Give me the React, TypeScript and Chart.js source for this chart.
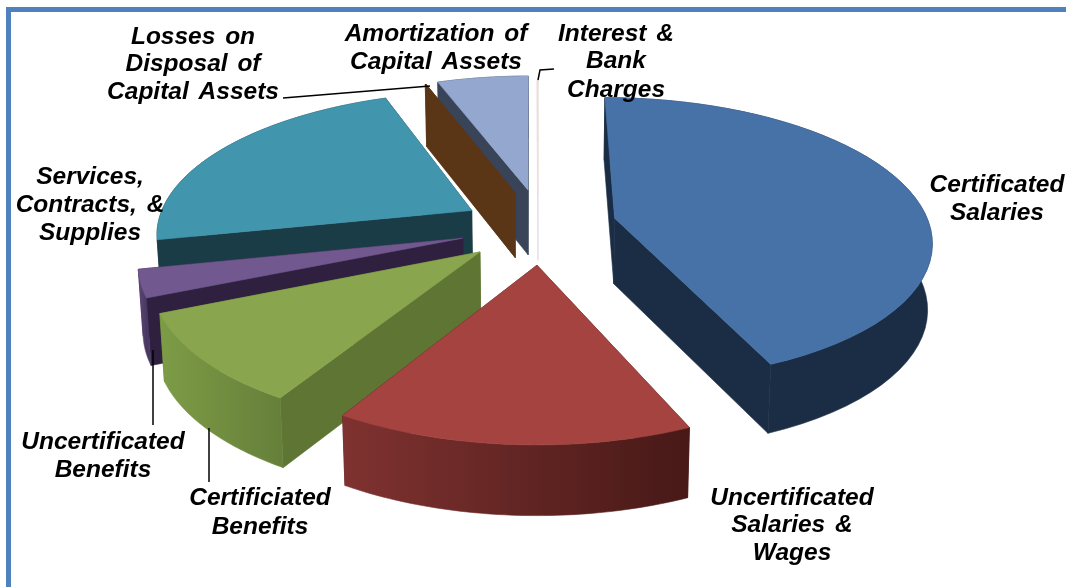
import React, { useEffect, useRef } from "react";
import { Chart, registerables } from "chart.js";

Chart.register(...registerables);

const categories = [
  "Certificated Salaries",
  "Uncertificated Salaries & Wages",
  "Certificiated Benefits",
  "Uncertificated Benefits",
  "Services, Contracts, & Supplies",
  "Losses on Disposal of Capital Assets",
  "Amortization of Capital Assets",
  "Interest & Bank Charges",
];
const values = [43.45, 15.15, 10, 3.05, 22.75, 0.05, 5.5, 0.05];
const explodeX = [78, -1, -57, -75, -68, -24, -10.5, 0];
const explodeY = [-38, 65, 37, 7, -56, -98, -105, -92];

const topColors = ["#4672a8", "#a54340", "#89a54e", "#71588f", "#4196ad", "#5c3616", "#93a7cf", "#f3dcdc"];
const cutColors = ["#1b2d45", "#4a1a18", "#5f7533", "#2f2040", "#193c46", "#5a3617", "#3a4458", "#e6e0e0"];
const wallLeft = ["#1b2d45", "#7f3230", "#7d9c46", "#5d4776", "#193c46", "#5a3617", "#3a4458", "#e6e0e0"];
const wallRight = ["#1b2d45", "#471917", "#66803a", "#4a3862", "#193c46", "#5a3617", "#3a4458", "#e6e0e0"];

const labelLines = [
  ["Certificated", "Salaries"],
  ["Uncertificated", "Salaries &", "Wages"],
  ["Certificiated", "Benefits"],
  ["Uncertificated", "Benefits"],
  ["Services,", "Contracts, &", "Supplies"],
  ["Losses on", "Disposal of", "Capital Assets"],
  ["Amortization of", "Capital Assets"],
  ["Interest &", "Bank", "Charges"],
];
const labelX = [997, 792, 260, 103, 90, 193, 436, 616];
const labelY = [
  [192, 220],
  [505, 532, 560],
  [505, 534],
  [449, 477],
  [184, 212, 240],
  [44, 71, 99],
  [41, 69],
  [41, 68, 97],
];
const leaders = [
  [[283, 98], [430, 86]],
  [[538, 80], [540, 70], [554, 69]],
  [[153, 350], [153, 425]],
  [[209, 428], [209, 482]],
];

const TILT = 0.45;
const PERSPECTIVE = 0.000467;
const DEPTH = 66;
const STEPS = 48;

const pie3d = {
  id: "pie3d",
  beforeDraw(chart: any) {
    const ctx = chart.ctx;
    ctx.save();
    ctx.fillStyle = "#ffffff";
    ctx.fillRect(0, 0, chart.width, chart.height);
    ctx.strokeStyle = "#4f81bd";
    ctx.lineWidth = 5;
    ctx.strokeRect(8.5, 9.5, chart.width + 40, chart.height + 40);
    ctx.restore();
  },
  beforeDatasetsDraw(chart: any) {
    const ctx = chart.ctx;
    const arcs = chart.getDatasetMeta(0).data;
    const project = (cx: number, cy: number, X: number, Y: number, z: number) => {
      const w = 1 - PERSPECTIVE * Y;
      const conv = 1 - 0.012 * (z / DEPTH);
      return [cx + (X / w) * conv, cy + (TILT * Y) / w + z / Math.pow(w, 0.35)];
    };
    const slices = arcs.map((arc: any, i: number) => ({ arc, i, ox: explodeX[i], oy: explodeY[i] }));
    slices.sort((a: any, b: any) => a.oy - b.oy);
    const fillPoly = (pts: number[][], style: any) => {
      ctx.beginPath();
      pts.forEach((p, n) => (n ? ctx.lineTo(p[0], p[1]) : ctx.moveTo(p[0], p[1])));
      ctx.closePath();
      ctx.fillStyle = style;
      ctx.strokeStyle = style;
      ctx.lineWidth = 0.6;
      ctx.fill();
      ctx.stroke();
    };
    ctx.save();
    for (const { arc, i, ox, oy } of slices) {
      const { x, y, startAngle, endAngle, outerRadius } = arc;
      const rim = (z: number) => {
        const pts: number[][] = [];
        for (let s = 0; s <= STEPS; s++) {
          const a = startAngle + ((endAngle - startAngle) * s) / STEPS;
          pts.push(project(x, y, ox + outerRadius * Math.cos(a), oy + outerRadius * Math.sin(a), z));
        }
        return pts;
      };
      const topRim = rim(0);
      const lowRim = rim(DEPTH);
      const apexT = project(x, y, ox, oy, 0);
      const apexL = project(x, y, ox, oy, DEPTH);
      fillPoly([apexT, topRim[0], lowRim[0], apexL], cutColors[i]);
      fillPoly([apexT, topRim[STEPS], lowRim[STEPS], apexL], cutColors[i]);
      const xs = topRim.map((p) => p[0]);
      const grad = ctx.createLinearGradient(Math.min(...xs), 0, Math.max(...xs) + 0.01, 0);
      grad.addColorStop(0, wallLeft[i]);
      grad.addColorStop(1, wallRight[i]);
      fillPoly([...topRim, ...lowRim.slice().reverse()], grad);
      fillPoly([apexT, ...topRim], topColors[i]);
    }
    ctx.restore();
    return false;
  },
  afterDraw(chart: any) {
    const ctx = chart.ctx;
    ctx.save();
    ctx.strokeStyle = "#000000";
    ctx.lineWidth = 1.5;
    leaders.forEach((line) => {
      ctx.beginPath();
      line.forEach((p, n) => (n ? ctx.lineTo(p[0], p[1]) : ctx.moveTo(p[0], p[1])));
      ctx.stroke();
    });
    ctx.fillStyle = "#000000";
    ctx.font = "italic bold 24.5px 'Liberation Sans'";
    ctx.textAlign = "center";
    ctx.textBaseline = "alphabetic";
    (ctx as any).wordSpacing = "3px";
    labelLines.forEach((lines, i) => {
      lines.forEach((t, n) => ctx.fillText(t, labelX[i], labelY[i][n]));
    });
    ctx.restore();
  },
};

export default function App() {
  const ref = useRef<HTMLCanvasElement>(null);
  useEffect(() => {
    const chart = new Chart(ref.current as HTMLCanvasElement, {
      type: "pie",
      data: {
        labels: categories,
        datasets: [{ data: values, backgroundColor: topColors, radius: 318, borderWidth: 0 } as any],
      },
      options: {
        responsive: false,
        animation: false,
        events: [],
        layout: { padding: { left: 10, right: 0, bottom: 117 } },
        plugins: { legend: { display: false }, tooltip: { enabled: false } },
      } as any,
      plugins: [pie3d as any],
    });
    return () => chart.destroy();
  }, []);
  return (
    <div style={{ position: "fixed", left: 0, top: 0, width: 1066, height: 587, overflow: "hidden", background: "#fff" }}>
      <canvas ref={ref} width={1066} height={587} style={{ display: "block" }} />
    </div>
  );
}
